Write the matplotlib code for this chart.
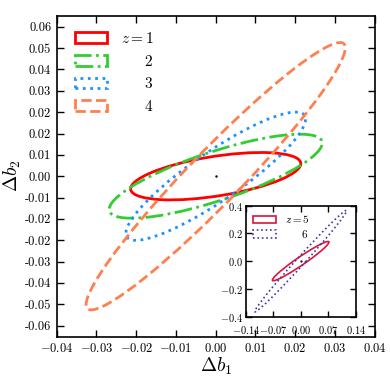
import numpy as np
import matplotlib
matplotlib.use("Agg")
import matplotlib.pyplot as plt
from matplotlib.patches import Ellipse
from matplotlib.ticker import FormatStrFormatter

plt.rcParams['font.family'] = 'serif'
plt.rcParams['font.serif'] = ['cmr10']
plt.rcParams['mathtext.fontset'] = 'cm'
plt.rcParams['axes.unicode_minus'] = False
plt.rcParams['axes.formatter.use_mathtext'] = True

# 1-sigma ellipse parameters (main panel)
z_main = [1, 2, 3, 4]
sig_b1_main = [0.0214, 0.0268, 0.0226, 0.0326]
sig_b2_main = [0.0092, 0.0163, 0.0249, 0.0519]
rho_main = [0.53, 0.79, 0.89, 0.96]

# inset panel
z_inset = [5, 6]
sig_b1_inset = [0.072, 0.117]
sig_b2_inset = [0.141, 0.365]
rho_inset = [0.967, 0.993]

x_ticks_main = [-0.04, -0.03, -0.02, -0.01, 0.0, 0.01, 0.02, 0.03, 0.04]
y_ticks_main = np.linspace(-0.058, 0.058, 15)
x_ticks_inset = [-0.14, -0.07, 0.0, 0.07, 0.14]
y_ticks_inset = [-0.4, -0.2, 0.0, 0.2, 0.4]

colors_main = ['#ff0000', '#33cc33', '#1e90ff', '#ff7f50']
styles_main = ['-', '-.', ':', '--']
colors_inset = ['#dc143c', '#3a3aaa']
styles_inset = ['-', ':']

PAD = r'\quad\;\;\,'


def ellipse(sx, sy, rho, **kw):
    cov = np.array([[sx**2, rho*sx*sy], [rho*sx*sy, sy**2]])
    vals, vecs = np.linalg.eigh(cov)
    angle = np.degrees(np.arctan2(vecs[1, 1], vecs[0, 1]))
    return Ellipse((0, 0), 2*np.sqrt(vals[1]), 2*np.sqrt(vals[0]),
                   angle=angle, fill=False, **kw)


def style_ticks(ax, size):
    ax.tick_params(direction='in', top=True, right=True, length=5,
                   width=1, labelsize=size, pad=4)
    for s in ax.spines.values():
        s.set_linewidth(1.2)


def math_labels(vals, fmt):
    return ['$' + (fmt % v) + '$' for v in vals]


def z_label(i, z):
    return '$z=%d$' % z if i == 0 else '$%s%d$' % (PAD, z)


fig = plt.figure(figsize=(3.9, 3.9), dpi=100)
ax = fig.add_axes([0.1454, 0.1367, 0.8154, 0.8230])

for i in range(len(z_main)):
    ax.add_patch(ellipse(sig_b1_main[i], sig_b2_main[i], rho_main[i],
                         edgecolor=colors_main[i], linestyle=styles_main[i],
                         linewidth=2, label=z_label(i, z_main[i])))
ax.plot([0], [0], 'k.', ms=1.5)

ax.set_xlim(-0.04, 0.04)
ax.set_ylim(-0.0623, 0.0623)
ax.set_xticks(x_ticks_main)
ax.set_xticklabels(math_labels(x_ticks_main, '%.2f'))
ax.set_yticks(y_ticks_main)
ax.yaxis.set_major_formatter(FormatStrFormatter('%.2f'))
style_ticks(ax, 9)
ax.set_xlabel(r'$\Delta b_1$', fontsize=14, labelpad=0)
ax.set_ylabel(r'$\Delta b_2$', fontsize=14, labelpad=1)
ax.legend(loc='upper left', frameon=False, fontsize=11, handlelength=2.1,
          handleheight=0.7, labelspacing=0.5, handletextpad=0.9,
          bbox_to_anchor=(0.015, 0.995))

ins = fig.add_axes([0.630, 0.188, 0.282, 0.285])
for i in range(len(z_inset)):
    ins.add_patch(ellipse(sig_b1_inset[i], sig_b2_inset[i], rho_inset[i],
                          edgecolor=colors_inset[i], linestyle=styles_inset[i],
                          linewidth=1.2, label=z_label(i, z_inset[i])))
ins.plot([0], [0], 'k.', ms=1.2)
ins.set_xlim(-0.14, 0.14)
ins.set_ylim(-0.4, 0.4)
ins.set_xticks(x_ticks_inset)
ins.set_xticklabels(math_labels(x_ticks_inset, '%.2f'))
ins.set_yticks(y_ticks_inset)
ins.set_yticklabels(math_labels(y_ticks_inset, '%.1f'))
style_ticks(ins, 7.5)
ins.tick_params(length=4)
ins.tick_params(axis='y', pad=2)
ins.tick_params(axis='x', pad=5)
ins.legend(loc='upper left', frameon=False, fontsize=8, handlelength=2.0,
           handleheight=0.7, labelspacing=0.2, borderaxespad=0.3)

fig.savefig('out.png', dpi=100)
